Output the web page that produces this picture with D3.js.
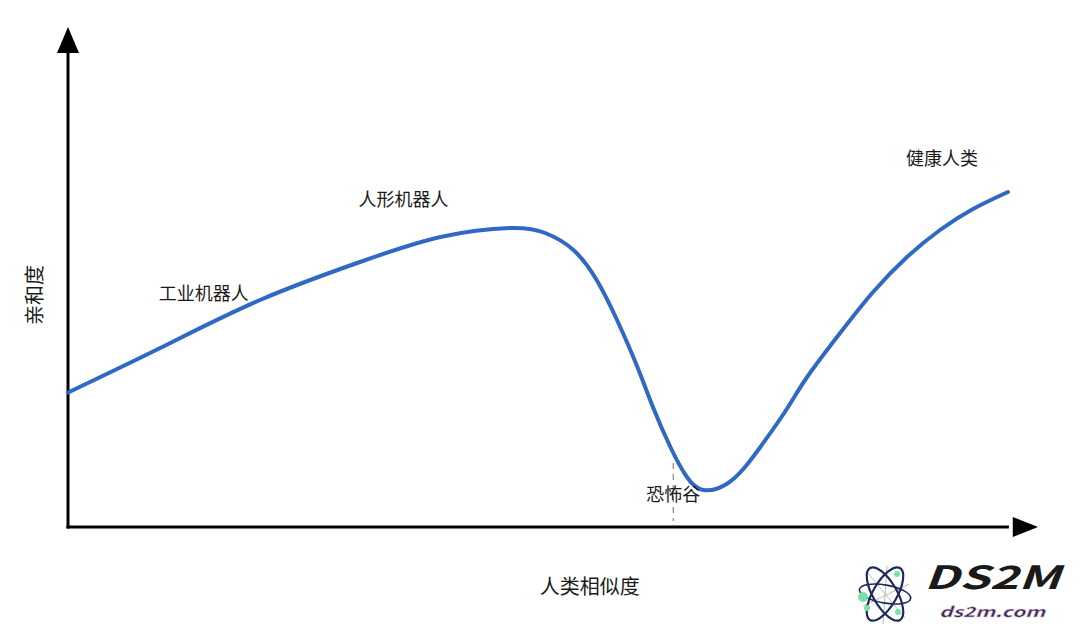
<!DOCTYPE html>
<html>
<head>
<meta charset="utf-8">
<script src="https://cdn.jsdelivr.net/npm/d3@7/dist/d3.min.js"></script>
<style>
  html, body { margin: 0; padding: 0; background: #fff; }
  svg { display: block; }
  text { font-family: "Noto Sans CJK SC", "Noto Sans", sans-serif; }
</style>
</head>
<body>
<svg id="chart" width="1080" height="627"></svg>
<script>
// Human likeness (0-100) vs affinity (0-100)
const likeness = [0, 9.5, 19.8, 30.1, 38.4, 45.6, 49.2, 52.1, 54.5, 56.6, 58.7, 60.3, 62.1, 63.8, 65.5, 67.9, 69.8, 71.3, 73.9, 76.2, 79.6, 83.0, 86.5, 89.9, 93.3, 96.9];
const affinity = [26.9, 35.8, 45.4, 53.0, 58.0, 59.8, 58.8, 55.4, 49.4, 41.4, 32.0, 24.0, 16.0, 10.0, 7.4, 8.6, 12.0, 15.8, 23.0, 30.0, 38.8, 47.0, 54.0, 59.4, 63.6, 67.0];

const labelTexts = ["工业机器人", "人形机器人", "恐怖谷", "健康人类"];
const labelX = [14.0, 34.6, 62.4, 90.1];
const labelY = [45.4, 64.2, 5.2, 72.4];
const valleyX = 62.4;
const xTitle = "人类相似度";
const yTitle = "亲和度";

const svg = d3.select("#chart");
const x = d3.scaleLinear().domain([0, 100]).range([68, 1038]);
const y = d3.scaleLinear().domain([0, 100]).range([527, 27]);

// dashed valley marker
svg.append("line")
  .attr("x1", x(valleyX)).attr("x2", x(valleyX))
  .attr("y1", y(12.8)).attr("y2", y(1.2))
  .attr("stroke", "#888").attr("stroke-width", 1.2)
  .attr("stroke-dasharray", "6,5");

// axes
svg.append("line").attr("x1", x(0)).attr("x2", x(0)).attr("y1", y(0) + 1.5).attr("y2", y(95))
  .attr("stroke", "#000").attr("stroke-width", 3);
svg.append("line").attr("x1", x(0) - 1.5).attr("x2", x(97)).attr("y1", y(0)).attr("y2", y(0))
  .attr("stroke", "#000").attr("stroke-width", 3);
svg.append("path")
  .attr("d", `M${x(0)},${y(100)} L${x(0) - 11},${y(94.8)} L${x(0) + 11},${y(94.8)} Z`)
  .attr("fill", "#000");
svg.append("path")
  .attr("d", `M${x(100)},${y(0)} L${x(97.4)},${y(0) - 10} L${x(97.4)},${y(0) + 10} Z`)
  .attr("fill", "#000");

// curve
const pts = likeness.map((v, i) => [v, affinity[i]]);
svg.append("path")
  .datum(pts)
  .attr("fill", "none")
  .attr("stroke", "#3068c5")
  .attr("stroke-width", 4)
  .attr("stroke-linecap", "round")
  .attr("d", d3.line().x(d => x(d[0])).y(d => y(d[1])).curve(d3.curveNatural));

// labels
labelTexts.forEach((t, i) => {
  svg.append("text")
    .attr("x", x(labelX[i])).attr("y", y(labelY[i]))
    .attr("text-anchor", "middle")
    .attr("font-size", 18).attr("fill", "#1a1a1a")
    .text(t);
});

svg.append("text")
  .attr("x", x(53.8)).attr("y", 594)
  .attr("text-anchor", "middle").attr("font-size", 20).attr("fill", "#1a1a1a")
  .text(xTitle);
svg.append("text")
  .attr("transform", `translate(42,${y(46.4)}) rotate(-90)`)
  .attr("text-anchor", "middle").attr("font-size", 20).attr("fill", "#1a1a1a")
  .text(yTitle);

// watermark logo
const logo = svg.append("g").attr("transform", "translate(885,594)");
logo.append("line").attr("x1", -18).attr("y1", -22).attr("x2", 20).attr("y2", 24).attr("stroke", "#bbb").attr("stroke-width", 1);
logo.append("line").attr("x1", -22).attr("y1", 12).attr("x2", 24).attr("y2", -10).attr("stroke", "#bbb").attr("stroke-width", 1);
logo.append("line").attr("x1", 2).attr("y1", -28).attr("x2", -2).attr("y2", 30).attr("stroke", "#bbb").attr("stroke-width", 1);
logo.append("ellipse").attr("rx", 30).attr("ry", 12).attr("transform", "rotate(60)")
  .attr("fill", "none").attr("stroke", "#1e2a5c").attr("stroke-width", 2.2);
logo.append("ellipse").attr("rx", 30).attr("ry", 12).attr("transform", "rotate(-60)")
  .attr("fill", "none").attr("stroke", "#1e2a5c").attr("stroke-width", 2.2);
logo.append("ellipse").attr("rx", 26).attr("ry", 9).attr("transform", "rotate(10)")
  .attr("fill", "none").attr("stroke", "#1e2a5c").attr("stroke-width", 1.6);
[[-22, 3, 5], [-18, 14, 3], [12, -20, 3], [13, 18, 3]].forEach(c => {
  logo.append("circle").attr("cx", c[0]).attr("cy", c[1]).attr("r", c[2]).attr("fill", "#7de0a8");
});
svg.append("text").attr("x", 924).attr("y", 589)
  .attr("font-family", "DejaVu Serif, serif").attr("font-style", "italic").attr("font-weight", "bold")
  .attr("font-size", 32).attr("textLength", 136).attr("lengthAdjust", "spacingAndGlyphs").attr("fill", "#1a1a1a")
  .text("DS2M");
svg.append("text").attr("x", 939).attr("y", 617)
  .attr("font-family", "DejaVu Serif, serif").attr("font-style", "italic").attr("font-weight", "bold")
  .attr("font-size", 14).attr("textLength", 106).attr("lengthAdjust", "spacingAndGlyphs").attr("fill", "#2a2f6a")
  .attr("stroke", "#f2b8b8").attr("stroke-width", 0.4)
  .text("ds2m.com");
</script>
</body>
</html>
